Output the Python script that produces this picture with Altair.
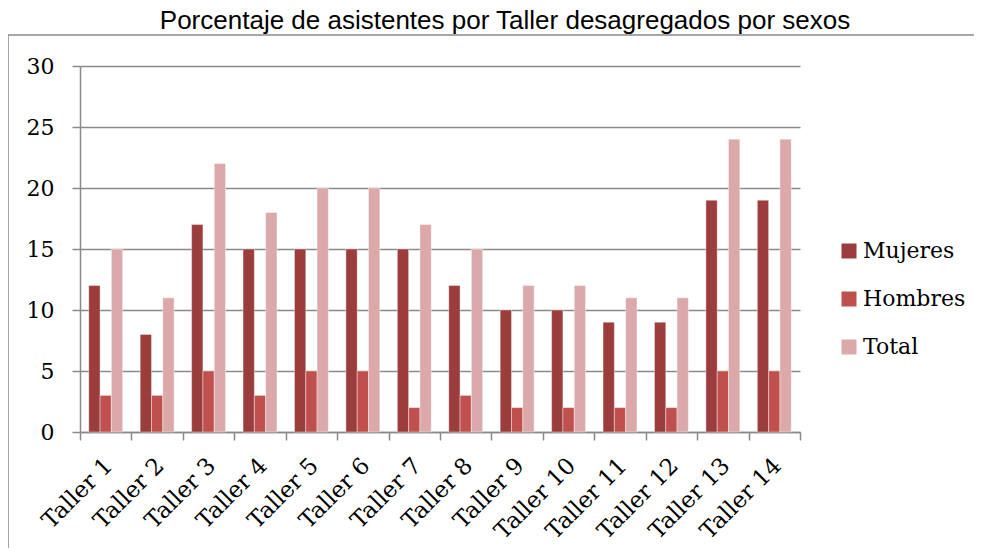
import altair as alt
import pandas as pd

talleres = ["Taller 1", "Taller 2", "Taller 3", "Taller 4", "Taller 5", "Taller 6", "Taller 7",
            "Taller 8", "Taller 9", "Taller 10", "Taller 11", "Taller 12", "Taller 13", "Taller 14"]
mujeres = [12, 8, 17, 15, 15, 15, 15, 12, 10, 10, 9, 9, 19, 19]
hombres = [3, 3, 5, 3, 5, 5, 2, 3, 2, 2, 2, 2, 5, 5]
total = [15, 11, 22, 18, 20, 20, 17, 15, 12, 12, 11, 11, 24, 24]
series = ["Mujeres", "Hombres", "Total"]
colors = ["#9b3d3d", "#c0504d", "#dba9a9"]
y_ticks = [0, 5, 10, 15, 20, 25, 30]

rows = []
for s, vals in zip(series, [mujeres, hombres, total]):
    for t, v in zip(talleres, vals):
        rows.append({"Taller": t, "Serie": s, "Valor": v})
df = pd.DataFrame(rows)

W, H = 720, 366
SERIF = "DejaVu Serif"
GRAY = "#8a8a8a"

bars = alt.Chart(df).mark_bar(stroke="white", strokeWidth=0.4).encode(
    x=alt.X("Taller:N", sort=talleres,
            scale=alt.Scale(paddingInner=0, paddingOuter=0),
            axis=alt.Axis(title=None, labelAngle=-45, tickBand="extent", tickSize=8,
                          labelPadding=14, labelOffset=-5, labelFont=SERIF, labelFontSize=23,
                          labelColor="black", domainColor=GRAY, tickColor=GRAY,
                          domainWidth=1.5, tickWidth=1.5, grid=False)),
    xOffset=alt.XOffset("Serie:N", sort=series,
                        scale=alt.Scale(paddingOuter=0.775, paddingInner=0)),
    y=alt.Y("Valor:Q", scale=alt.Scale(domain=[0, 30]),
            axis=alt.Axis(title=None, values=y_ticks, tickSize=8, labelPadding=18,
                          labelFont=SERIF, labelFontSize=22, labelColor="black",
                          domainColor=GRAY, tickColor=GRAY, gridColor=GRAY,
                          domainWidth=1.5, tickWidth=1.5, gridWidth=1.5)),
    color=alt.Color("Serie:N", sort=series,
                    scale=alt.Scale(domain=series, range=colors),
                    legend=alt.Legend(title=None, orient="none", legendX=758, legendY=174,
                                      symbolType="square", symbolSize=225,
                                      symbolStrokeWidth=0, labelFont=SERIF,
                                      labelFontSize=22, labelColor="black",
                                      rowPadding=26, labelOffset=3)),
)

frame = alt.Chart(pd.DataFrame({"a": [0]})).mark_rect(
    fill=None, stroke=GRAY, strokeWidth=1.5
).encode(
    x=alt.value(-72), x2=alt.value(W + 300),
    y=alt.value(-31), y2=alt.value(H + 300),
)

chart = alt.layer(frame, bars).properties(
    width=W, height=H,
    title=alt.TitleParams("Porcentaje de asistentes por Taller desagregados por sexos",
                          font="Liberation Sans", fontSize=26, fontWeight="normal",
                          color="black", dx=65, offset=0),
    autosize=alt.AutoSizeParams(type="none"),
    padding={"left": 72, "top": 58, "right": 174, "bottom": 116},
).configure_view(stroke=None)

chart.save("out.html", embed_options={"renderer": "svg", "actions": False})
